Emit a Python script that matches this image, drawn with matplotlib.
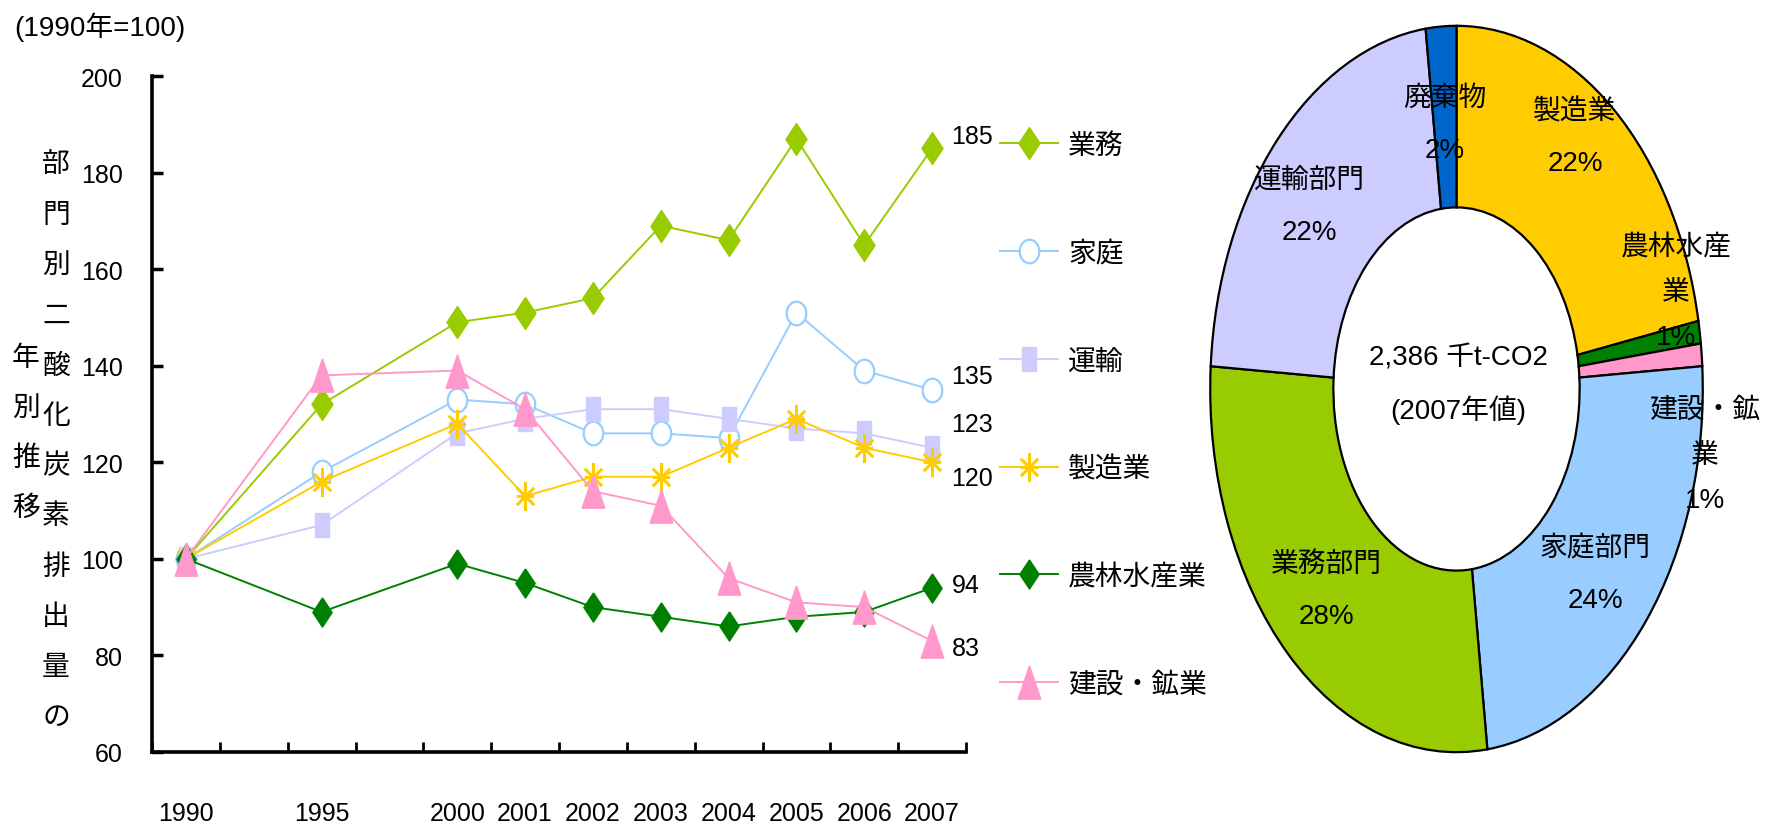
import numpy as np
import matplotlib
matplotlib.use("Agg")
import matplotlib.pyplot as plt
from matplotlib import font_manager as fm
from matplotlib.path import Path

# category slots on the x axis (1991-94 and 1996-99 left out)
slots = ["1990", "", "1995", "", "2000", "2001", "2002", "2003",
         "2004", "2005", "2006", "2007"]
years = ["1990", "1995", "2000", "2001", "2002", "2003", "2004",
         "2005", "2006", "2007"]

names = ["業務", "家庭", "運輸", "製造業", "農林水産業", "建設・鉱業"]
gyomu = [100, 132, 149, 151, 154, 169, 166, 187, 165, 185]
katei = [100, 118, 133, 132, 126, 126, 125, 151, 139, 135]
unyu = [100, 107, 126, 129, 131, 131, 129, 127, 126, 123]
seizo = [100, 116, 128, 113, 117, 117, 123, 129, 123, 120]
norin = [100, 89, 99, 95, 90, 88, 86, 88, 89, 94]
kensetsu = [100, 138, 139, 131, 114, 111, 96, 91, 90, 83]

yticks = [60, 80, 100, 120, 140, 160, 180, 200]

pie_names = ["製造業", "農林水産業", "建設・鉱業", "家庭部門", "業務部門",
             "運輸部門", "廃棄物"]
pie_pct = [22, 1, 1, 24, 28, 22, 2]
total_text = "2,386 千t-CO2"
year_text = "(2007年値)"

W, H = 1767, 828


def pick(cands):
    for c in cands:
        try:
            fm.findfont(fm.FontProperties(family=c), fallback_to_default=False)
            return c
        except Exception:
            pass
    return "DejaVu Sans"


JP = "Noto Sans CJK JP"
NUM = pick(["Liberation Sans Narrow", "DejaVu Sans Condensed", "Liberation Sans"])
NS = 21 if "Narrow" in NUM or "Condensed" in NUM else 18
MIX = [NUM, JP]


def fx(x):
    return x / W


def fy(y):
    return 1 - y / H


# marker shapes, a bit taller than wide like the original
diamond = [(0, 1), (0.66, 0), (0, -1), (-0.66, 0), (0, 1)]
t = np.linspace(0, 2 * np.pi, 41)
oval = list(zip(0.83 * np.cos(t), np.sin(t)))
rect = [(-0.57, -1), (0.57, -1), (0.57, 1), (-0.57, 1), (-0.57, -1)]
tri = [(0, 1), (0.68, -1), (-0.68, -1), (0, 1)]
ast = Path([(0, -1), (0, 1), (-0.6, -0.6), (0.6, 0.6), (-0.6, 0.6), (0.6, -0.6),
            (-0.6, 0), (0.6, 0)],
           [1, 2, 1, 2, 1, 2, 1, 2])

styles = [
    dict(color="#99CC00", marker=diamond, ms=23, mfc="#99CC00", mec="#99CC00"),
    dict(color="#99CCFF", marker=oval, ms=17, mfc="white", mec="#99CCFF", mew=1.6),
    dict(color="#CCCCFF", marker=rect, ms=17, mfc="#CCCCFF", mec="#CCCCFF"),
    dict(color="#FFCC00", marker=ast, ms=21, mfc="none", mec="#FFCC00", mew=2.2),
    dict(color="#008000", marker=diamond, ms=21, mfc="#008000", mec="#008000"),
    dict(color="#FF99CC", marker=tri, ms=24, mfc="#FF99CC", mec="#FF99CC"),
]
label_dy = [9, 10, 17, -11, 2, -5]  # points, nudges of the 2007 value labels

fig = plt.figure(figsize=(W / 100, H / 100), dpi=100)
ax = fig.add_axes([fx(152), fy(753), fx(966 - 152), (753 - 77) / H])

xs = [slots.index(y) for y in years]
lines = []
for name, vals, st, dy in zip(names, [gyomu, katei, unyu, seizo, norin, kensetsu],
                              styles, label_dy):
    ln, = ax.plot(xs, vals, lw=1.4, label=name, clip_on=False, **st)
    lines.append(ln)
    ax.annotate(str(vals[-1]), (xs[-1], vals[-1]), xytext=(14, dy),
                textcoords="offset points", ha="left", va="center",
                fontsize=NS, family=NUM)

ax.set_xlim(-0.5, len(slots) - 0.5)
ax.set_ylim(60, 200)
ax.set_yticks(yticks)
ax.set_yticklabels([str(v) for v in yticks], family=NUM, fontsize=NS)
ax.set_xticks(range(len(slots)))
ax.set_xticklabels(slots, family=NUM, fontsize=NS)
ax.set_xticks(np.arange(len(slots) + 1) - 0.5, minor=True)
ax.tick_params(axis="x", which="major", length=0, pad=35)
ax.tick_params(axis="x", which="minor", direction="in", length=7, width=2)
ax.tick_params(axis="y", direction="in", length=8, width=2.5, pad=21)
for s in ["top", "right"]:
    ax.spines[s].set_visible(False)
for s in ["left", "bottom"]:
    ax.spines[s].set_linewidth(2.6)

leg = ax.legend(handles=lines, loc="upper left",
                bbox_to_anchor=(fx(1000), fy(131)), bbox_transform=fig.transFigure,
                frameon=False, prop=fm.FontProperties(family=JP, size=20),
                handlelength=2.1, handletextpad=0.35, labelspacing=2.8,
                borderpad=0, borderaxespad=0)

fig.text(fx(14), fy(27), "(1990年=100)", family=MIX, fontsize=20,
         ha="left", va="center")

# vertical axis title, two columns read right to left
col1 = "部門別二酸化炭素排出量の"
col2 = "年別推移"
fig.text(fx(56), fy(441), "\n".join(col1), family=JP, fontsize=20,
         ha="center", va="center", linespacing=1.88)
fig.text(fx(26), fy(433), "\n".join(col2), family=JP, fontsize=20,
         ha="center", va="center", linespacing=1.88)

# donut
pax = fig.add_axes([fx(1209), fy(755), fx(1704 - 1209), (755 - 25) / H])
pie_colors = ["#FFCC00", "#008000", "#FF99CC", "#99CCFF", "#99CC00",
              "#CCCCFF", "#0066CC"]
pax.pie(pie_pct, colors=pie_colors, startangle=90, counterclock=False,
        radius=1, wedgeprops=dict(width=0.5, edgecolor="black", linewidth=1.6))
pax.set_aspect("auto")
pax.set_xlim(-1.005, 1.005)
pax.set_ylim(-1.005, 1.005)
pax.axis("off")

pie_pos = [(1575, 138), (1676, 293), (1705, 456), (1595, 575), (1326, 591),
           (1309, 207), (1445, 125)]
for nm, p, (px, py) in zip(pie_names, pie_pct, pie_pos):
    txt = nm if len(nm) < 5 else nm[:4] + "\n" + nm[4:]
    ls = 2.3 if len(nm) < 5 else 1.95
    fig.text(fx(px), fy(py), txt + "\n" + str(p) + "%", family=MIX,
             fontsize=20, ha="center", va="center", linespacing=ls)

fig.text(fx(1458), fy(385), total_text + "\n" + year_text, family=MIX,
         fontsize=20, ha="center", va="center", linespacing=2.02)

fig.savefig("out.png", dpi=100)
